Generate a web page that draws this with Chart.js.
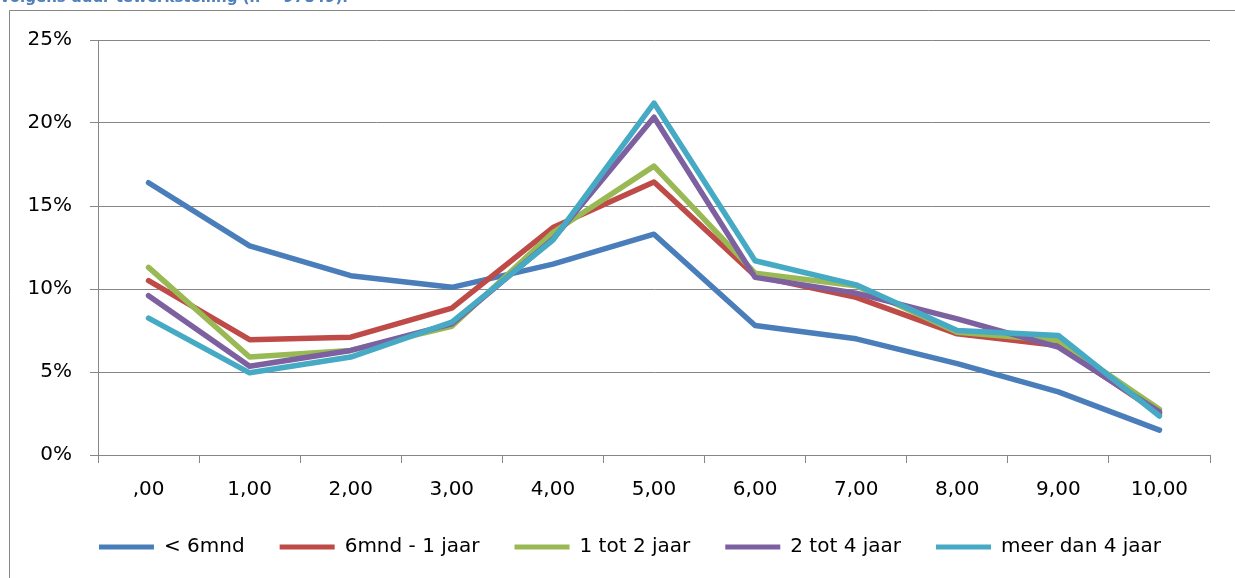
<!DOCTYPE html>
<html>
<head>
<meta charset="utf-8">
<script src="https://cdn.jsdelivr.net/npm/chart.js@4/dist/chart.umd.min.js"></script>
<style>
  html, body { margin: 0; padding: 0; background: #ffffff; overflow: hidden; width: 1235px; height: 578px; }
  #wrap { position: relative; width: 1235px; height: 578px; overflow: hidden; }
  #title { position: absolute; left: 0px; top: -10px; font-family: "DejaVu Sans", sans-serif; font-weight: bold; font-size: 15px; line-height: 15px; color: #4F81BD; white-space: nowrap; }
  canvas { position: absolute; left: 0; top: 0; display: block; }
</style>
</head>
<body>
<div id="wrap">
  <canvas id="c" width="1235" height="578" style="width:1235px;height:578px"></canvas>
  <div id="title">volgens duur tewerkstelling (n = 97849).</div>
</div>
<script>
const categories = [",00", "1,00", "2,00", "3,00", "4,00", "5,00", "6,00", "7,00", "8,00", "9,00", "10,00"];
const seriesNames = ["< 6mnd", "6mnd - 1 jaar", "1 tot 2 jaar", "2 tot 4 jaar", "meer dan 4 jaar"];
const lt6mnd     = [16.4, 12.6, 10.8, 10.1, 11.5, 13.3, 7.8, 7.0, 5.5, 3.8, 1.5];
const mnd6to1jr  = [10.5, 6.95, 7.1, 8.85, 13.7, 16.45, 10.8, 9.5, 7.3, 6.6, 2.5];
const jr1to2     = [11.3, 5.9, 6.3, 7.75, 13.4, 17.4, 10.95, 10.2, 7.4, 6.9, 2.75];
const jr2to4     = [9.6, 5.35, 6.3, 7.9, 13.0, 20.35, 10.7, 9.75, 8.2, 6.5, 2.6];
const meerDan4jr = [8.25, 4.95, 5.9, 8.0, 12.95, 21.2, 11.7, 10.25, 7.5, 7.2, 2.35];
const yTicks = [0, 5, 10, 15, 20, 25];

const colors = ["#4A7EBB", "#BE4B48", "#98B954", "#7D60A0", "#46AAC5"];
const seriesData = [lt6mnd, mnd6to1jr, jr1to2, jr2to4, meerDan4jr];

const frame = {
  id: 'frame',
  beforeDraw(chart) {
    const ctx = chart.ctx;
    ctx.save();
    ctx.strokeStyle = '#868686';
    ctx.lineWidth = 1;
    ctx.beginPath();
    ctx.moveTo(9.5, 578);
    ctx.lineTo(9.5, 10.5);
    ctx.lineTo(1235, 10.5);
    ctx.stroke();
    ctx.restore();
  },
  afterDraw(chart) {
    const ctx = chart.ctx;
    ctx.save();
    ctx.fillStyle = '#ffffff';
    ctx.fillRect(1214, 12, 21, 566);
    ctx.restore();
  }
};

const legendShift = {
  id: 'legendShift',
  afterLayout(chart) {
    const lg = chart.legend;
    if (!lg) return;
    const dx = 15, dy = -15;
    lg.left += dx; lg.right += dx;
    lg.top += dy; lg.bottom += dy;
  }
};

const datasets = seriesNames.map((name, i) => ({
  label: name,
  data: seriesData[i],
  borderColor: colors[i],
  backgroundColor: colors[i],
  borderWidth: 5.5,
  pointRadius: 0,
  pointHoverRadius: 0,
  tension: 0,
  fill: false,
  borderCapStyle: 'round',
  borderJoinStyle: 'round',
  order: seriesNames.length - i
}));

const FONT = "'DejaVu Sans', sans-serif";
Chart.defaults.font.family = FONT;
Chart.defaults.color = '#000000';

new Chart(document.getElementById('c'), {
  type: 'line',
  data: { labels: categories, datasets },
  options: {
    responsive: false,
    maintainAspectRatio: false,
    devicePixelRatio: 1,
    animation: false,
    events: [],
    layout: { padding: { left: 20, right: 25, top: 40, bottom: -4 } },
    plugins: {
      title: { display: false },
      tooltip: { enabled: false },
      legend: {
        display: true,
        position: 'bottom',
        labels: {
          font: { size: 20, family: FONT },
          color: '#000000',
          boxWidth: 55,
          boxHeight: 5,
          padding: 35,
          sort: (a, b) => a.datasetIndex - b.datasetIndex,
          generateLabels: (chart) => chart.data.datasets.map((ds, i) => ({
            text: ds.label,
            fillStyle: ds.borderColor,
            strokeStyle: ds.borderColor,
            lineWidth: 0,
            hidden: false,
            datasetIndex: i
          }))
        }
      }
    },
    scales: {
      x: {
        offset: true,
        grid: {
          display: true,
          offset: true,
          drawOnChartArea: false,
          drawTicks: true,
          tickLength: 8,
          color: '#868686',
          lineWidth: 1
        },
        border: { display: true, color: '#868686', width: 1 },
        ticks: {
          font: { size: 20, family: FONT },
          color: '#000000',
          padding: 15,
          maxRotation: 0,
          autoSkip: false
        }
      },
      y: {
        min: 0,
        max: 25,
        afterFit(scale) { scale.width = 78; },
        afterBuildTicks(scale) { scale.ticks = yTicks.map(v => ({ value: v })); },
        grid: {
          display: true,
          drawOnChartArea: true,
          drawTicks: true,
          tickLength: 8,
          color: '#868686',
          lineWidth: 1
        },
        border: { display: true, color: '#868686', width: 1 },
        ticks: {
          font: { size: 20, family: FONT },
          color: '#000000',
          padding: 18,
          callback: (v) => v + '%'
        }
      }
    }
  },
  plugins: [frame, legendShift]
});
</script>
</body>
</html>
